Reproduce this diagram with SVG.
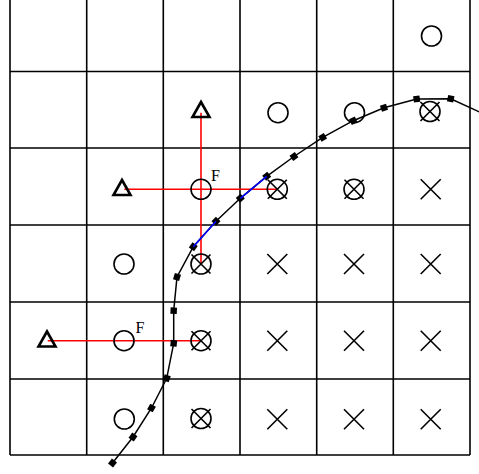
<svg xmlns="http://www.w3.org/2000/svg" width="479" height="474" viewBox="0 0 479 474">
<style>
.grid{stroke:#000;stroke-width:1.6;fill:none}
.sym{stroke:#000;stroke-width:1.6;fill:none}
.tri{stroke:#000;stroke-width:2.6;fill:none;stroke-linejoin:miter}
.red{stroke:#f00;stroke-width:1.6;fill:none}
.blue{stroke:#00f;stroke-width:1.6;fill:none}
.curve{stroke:#000;stroke-width:1.5;fill:none;marker-start:url(#sq);marker-mid:url(#sq);marker-end:url(#sq)}
.lbl{font-family:"Liberation Serif",serif;font-size:16px;fill:#000}
</style>
<defs>
<marker id="sq" markerUnits="userSpaceOnUse" markerWidth="8" markerHeight="8" refX="4" refY="4" orient="auto" overflow="visible">
<rect x="0.8" y="0.8" width="6.4" height="6.4" fill="#000"/>
</marker>
<g id="o"><circle cx="0" cy="0" r="10" class="sym"/></g>
<g id="x"><path d="M-10,-10L10,10M10,-10L-10,10" class="sym"/></g>
<g id="ox"><circle cx="0" cy="0" r="10" class="sym"/><path d="M-9.5,-9.5L9.5,9.5M9.5,-9.5L-9.5,9.5" class="sym"/></g>
<g id="t"><path d="M0,-8.5L8.5,6.5L-8.5,6.5Z" class="tri"/></g>
</defs>
<rect width="479" height="474" fill="#fff"/>
<g id="grid" class="grid">
<path d="M10,0V455M86.7,0V455M163.3,0V455M240,0V455M316.7,0V455M393.3,0V455M470,0V455"/>
<path d="M10,71.5H470M10,148H470M10,225H470M10,302H470M10,379H470M10,455H470"/>
</g>
<g id="connectors">
<path class="red" d="M201,112.7V264"/>
<path class="red" d="M124.3,189.3H277.5"/>
<path class="red" d="M47.7,340.7H201"/>
<polyline class="curve" points="112.5,463 133,437 151.5,408 166.7,378.3 173.7,343.3 173.7,310.7 177,277 193.3,246.7 216,221.3 240.3,198.3 266.7,176.3 294,156.5 322.7,137.3 353.3,120.7 384,107.7 416.7,99 450.7,98.7 495,119.2"/>
<path class="blue" d="M193.3,246.7L216,221.3M240.3,198.3L266.7,176.3"/>
</g>
<g id="r0c5"><use href="#o" x="431.5" y="36"/></g>
<g id="r1c2"><use href="#t" x="201" y="110.5"/></g>
<g id="r1c3"><use href="#o" x="278" y="112.7"/></g>
<g id="r1c4"><use href="#o" x="354.5" y="112.7"/></g>
<g id="r1c5"><use href="#ox" x="430" y="111.5"/></g>
<g id="r2c1"><use href="#t" x="122" y="188.5"/></g>
<g id="r2c2"><use href="#o" x="201" y="189.3"/><text class="lbl" x="211" y="181">F</text></g>
<g id="r2c3"><use href="#ox" x="277.3" y="189.3"/></g>
<g id="r2c4"><use href="#ox" x="354" y="189.3"/></g>
<g id="r2c5"><use href="#x" x="430.7" y="189.3"/></g>
<g id="r3c1"><use href="#o" x="124" y="264"/></g>
<g id="r3c2"><use href="#ox" x="201" y="264"/></g>
<g id="r3c3"><use href="#x" x="277.3" y="264"/></g>
<g id="r3c4"><use href="#x" x="354" y="264"/></g>
<g id="r3c5"><use href="#x" x="430.7" y="264"/></g>
<g id="r4c0"><use href="#t" x="47" y="340"/></g>
<g id="r4c1"><use href="#o" x="124" y="340.7"/><text class="lbl" x="135.5" y="332.5">F</text></g>
<g id="r4c2"><use href="#ox" x="201" y="340.7"/></g>
<g id="r4c3"><use href="#x" x="277.3" y="340.7"/></g>
<g id="r4c4"><use href="#x" x="354" y="340.7"/></g>
<g id="r4c5"><use href="#x" x="430.7" y="340.7"/></g>
<g id="r5c1"><use href="#o" x="124.3" y="419"/></g>
<g id="r5c2"><use href="#ox" x="201" y="418.5"/></g>
<g id="r5c3"><use href="#x" x="277.3" y="419.3"/></g>
<g id="r5c4"><use href="#x" x="354" y="419.3"/></g>
<g id="r5c5"><use href="#x" x="430.7" y="419.3"/></g>
</svg>
